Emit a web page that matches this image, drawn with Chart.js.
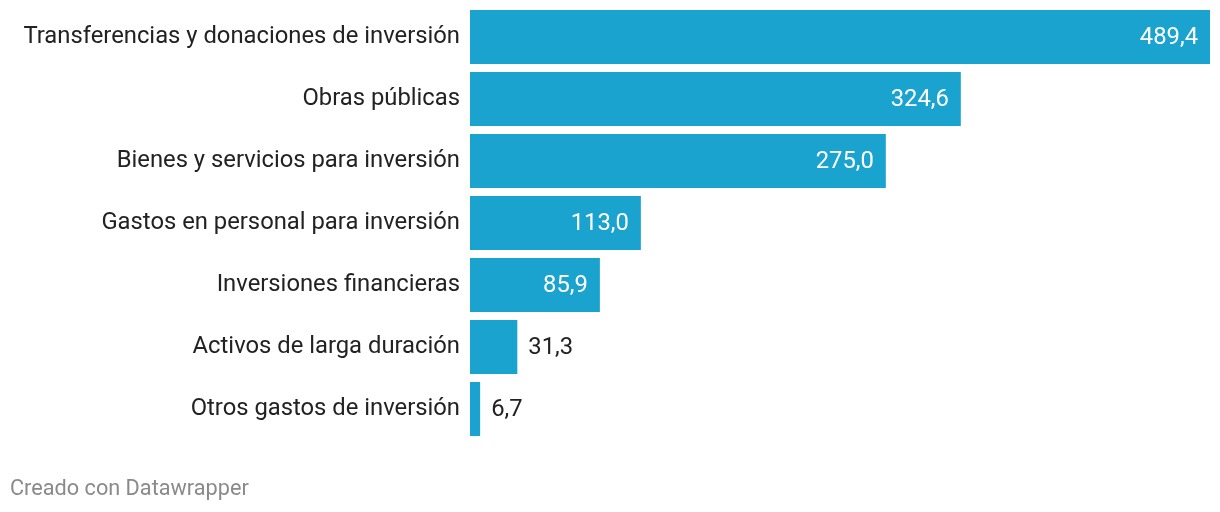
<!DOCTYPE html>
<html>
<head>
<meta charset="utf-8">
<script src="https://cdn.jsdelivr.net/npm/chart.js@4/dist/chart.umd.min.js"></script>
<style>
    html, body { margin: 0; padding: 0; background: #fff; }
    #wrap { position: relative; width: 1220px; height: 512px; }
    #credit {
        position: absolute; left: 10px; top: 475px;
        font-family: Roboto, sans-serif; font-size: 21.7px; color: #8a8a8a;
    }
</style>
</head>
<body>
<div id="wrap">
    <canvas id="chart" width="1220" height="512"></canvas>
    <div id="credit">Creado con Datawrapper</div>
</div>
<script>
    const categories = [
        'Transferencias y donaciones de inversión',
        'Obras públicas',
        'Bienes y servicios para inversión',
        'Gastos en personal para inversión',
        'Inversiones financieras',
        'Activos de larga duración',
        'Otros gastos de inversión'
    ];
    const values = [489.4, 324.6, 275.0, 113.0, 85.9, 31.3, 6.7];

    const barColor = '#1ba3cf';
    const font = 'Roboto, sans-serif';
    const fontSize = 23.8;

    // Value labels: inside the bar (white) when it fits, otherwise to the right
    const valueLabels = {
        id: 'valueLabels',
        afterDatasetsDraw(chart) {
            const ctx = chart.ctx;
            const meta = chart.getDatasetMeta(0);
            ctx.save();
            ctx.font = fontSize + 'px ' + font;
            ctx.textBaseline = 'middle';
            meta.data.forEach((bar, i) => {
                const text = values[i].toFixed(1).replace('.', ',');
                const w = ctx.measureText(text).width;
                const barWidth = bar.x - bar.base;
                if (w + 24 < barWidth) {
                    ctx.fillStyle = '#ffffff';
                    ctx.textAlign = 'right';
                    ctx.fillText(text, bar.x - 12, bar.y + 1);
                } else {
                    ctx.fillStyle = '#222222';
                    ctx.textAlign = 'left';
                    ctx.fillText(text, bar.x + 11, bar.y + 1);
                }
            });
            ctx.restore();
        }
    };

    new Chart(document.getElementById('chart'), {
        type: 'bar',
        data: {
            labels: categories,
            datasets: [{
                data: values,
                backgroundColor: barColor,
                borderWidth: 0,
                barPercentage: 54 / 62,
                categoryPercentage: 1
            }]
        },
        options: {
            indexAxis: 'y',
            responsive: false,
            animation: false,
            layout: {
                padding: { top: 6, right: 10, bottom: 72, left: 0 }
            },
            plugins: {
                legend: { display: false },
                tooltip: { enabled: false }
            },
            scales: {
                x: {
                    display: false,
                    min: 0,
                    max: 489.4
                },
                y: {
                    grid: { display: false, drawTicks: false },
                    border: { display: false },
                    ticks: {
                        color: '#222222',
                        padding: 10,
                        font: { family: font, size: fontSize }
                    },
                    afterFit(scale) {
                        scale.width = 470;
                        scale.paddingTop = 0;
                        scale.paddingBottom = 0;
                    }
                }
            }
        },
        plugins: [valueLabels]
    });
</script>
</body>
</html>
